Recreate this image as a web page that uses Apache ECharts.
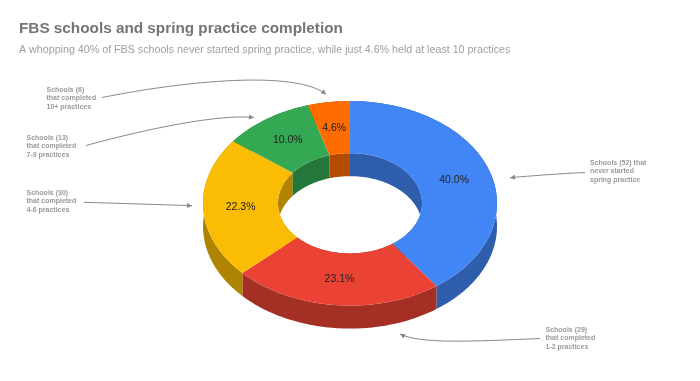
<!DOCTYPE html>
<html><head><meta charset="utf-8">
<script src="https://cdn.jsdelivr.net/npm/echarts@6/dist/echarts.min.js"></script>
<style>html,body{margin:0;padding:0;background:#fff}#c{width:700px;height:381px}</style>
</head><body><div id="c"></div>
<script>
// ---- data ----
const titleText = 'FBS schools and spring practice completion';
const subtitleText = 'A whopping 40% of FBS schools never started spring practice, while just 4.6% held at least 10 practices';
const categories = ['Never started spring practice', 'Completed 1-2 practices', 'Completed 4-6 practices', 'Completed 7-9 practices', 'Completed 10+ practices'];
const schoolCounts = [52, 30, 29, 13, 6];
const annotationTexts = [
  'Schools (52) that\nnever started\nspring practice',
  'Schools (29)\nthat completed\n1-2 practices',
  'Schools (30)\nthat completed\n4-6 practices',
  'Schools (13)\nthat completed\n7-9 practices',
  'Schools (6)\nthat completed\n10+ practices'
];

// ---- styles / geometry ----
const FONT = 'Arial, "Liberation Sans", sans-serif';
const sliceColors = ['#4285F4', '#EA4335', '#FBBC04', '#34A853', '#FF6D01'];
const sideColors = ['#2E5DAB', '#A42F25', '#B08403', '#24763A', '#B34C01'];
const CX = 350, CY = 203.3, RX = 147, RY = 102.3, INNER = 0.49, DEPTH = 23;

const total = schoolCounts.reduce((a, b) => a + b, 0);
const starts = [];
schoolCounts.reduce((acc, v, i) => { starts[i] = acc; return acc + v; }, 0);

function arcPts(a0, a1, r, dy) {
  const n = Math.max(4, Math.ceil(Math.abs(a1 - a0) / 0.02));
  const pts = [];
  for (let k = 0; k <= n; k++) {
    const t = a0 + (a1 - a0) * k / n;
    pts.push([CX + RX * r * Math.sin(t), CY - RY * r * Math.cos(t) + dy]);
  }
  return pts;
}
function angles(idx, value) {
  const a0 = starts[idx] / total * Math.PI * 2;
  const a1 = (starts[idx] + value) / total * Math.PI * 2;
  return [a0, a1];
}

function renderSides(params, api) {
  const i = params.dataIndex;
  const [a0, a1] = angles(i, api.value(0));
  return {
    type: 'group',
    children: [
      { type: 'polygon', shape: { points: arcPts(a0, a1, 1, 0).concat(arcPts(a1, a0, 1, DEPTH)) },
        style: { fill: sideColors[i] } },
      { type: 'polygon', shape: { points: arcPts(a0, a1, INNER, 0).concat(arcPts(a1, a0, INNER, DEPTH)) },
        style: { fill: sideColors[i] } }
    ]
  };
}
function renderTop(params, api) {
  const i = params.dataIndex;
  const v = api.value(0);
  const [a0, a1] = angles(i, v);
  const m = (a0 + a1) / 2, rl = (1 + INNER) / 2;
  return {
    type: 'group',
    children: [
      { type: 'polygon', shape: { points: arcPts(a0, a1, 1, 0).concat(arcPts(a1, a0, INNER, 0)) },
        style: { fill: sliceColors[i] } },
      { type: 'text', x: CX + RX * rl * Math.sin(m), y: CY - RY * rl * Math.cos(m),
        style: { text: (v / total * 100).toFixed(1) + '%', font: '10.5px ' + FONT, fill: '#222',
                 align: 'center', verticalAlign: 'middle' } }
    ]
  };
}

// ---- annotations (callouts) ----
const ANN_COLOR = '#9a9a9a';
const annPos = [[590, 159], [545.5, 326], [26.5, 189], [26.5, 134], [46.5, 86]];
const arrowPaths = [
  { p: [[585, 172.5], [560, 173.5], [530, 176], [510, 177.7]] },
  { p: [[540, 338.5], [470, 341.5], [420, 344], [400, 334]] },
  { p: [[84, 202.3], [120, 203.5], [160, 204.5], [192, 205.7]] },
  { p: [[86, 145.5], [150, 128], [220, 114], [254, 117.5]] },
  { p: [[102, 97.5], [200, 78], [300, 72], [326, 94.5]] }
];
function arrowHead(tip, from) {
  const dx = tip[0] - from[0], dy = tip[1] - from[1];
  const L = Math.hypot(dx, dy) || 1, ux = dx / L, uy = dy / L;
  const len = 5, w = 2.6;
  return [tip, [tip[0] - len * ux + w * uy, tip[1] - len * uy - w * ux], [tip[0] - len * ux - w * uy, tip[1] - len * uy + w * ux]];
}
const graphics = [];
annotationTexts.forEach((t, i) => {
  graphics.push({ type: 'text', left: annPos[i][0], top: annPos[i][1],
    style: { text: t, font: 'bold 7px ' + FONT, fill: ANN_COLOR, lineHeight: 8.3 } });
  const p = arrowPaths[i].p;
  graphics.push({ type: 'bezierCurve', shape: { x1: p[0][0], y1: p[0][1], cpx1: p[1][0], cpy1: p[1][1], cpx2: p[2][0], cpy2: p[2][1], x2: p[3][0], y2: p[3][1] },
    style: { stroke: '#888', lineWidth: 1, fill: null } });
  graphics.push({ type: 'polygon', shape: { points: arrowHead(p[3], p[2]) }, style: { fill: '#888' } });
});

const chart = echarts.init(document.getElementById('c'));
chart.setOption({
  backgroundColor: '#fff',
  animation: false,
  title: {
    left: 19, top: 21, padding: 0, text: titleText, subtext: subtitleText, itemGap: 9,
    textStyle: { fontFamily: FONT, fontSize: 15.3, fontWeight: 'bold', color: '#757575' },
    subtextStyle: { fontFamily: FONT, fontSize: 10.7, color: '#9e9e9e' }
  },
  graphic: graphics,
  series: [
    { type: 'custom', name: 'sides', coordinateSystem: 'none', z: 2, renderItem: renderSides,
      data: schoolCounts.map((v, i) => ({ name: categories[i], value: [v] })) },
    { type: 'custom', name: 'top', coordinateSystem: 'none', z: 3, renderItem: renderTop,
      data: schoolCounts.map((v, i) => ({ name: categories[i], value: [v] })) }
  ]
});
</script></body></html>
